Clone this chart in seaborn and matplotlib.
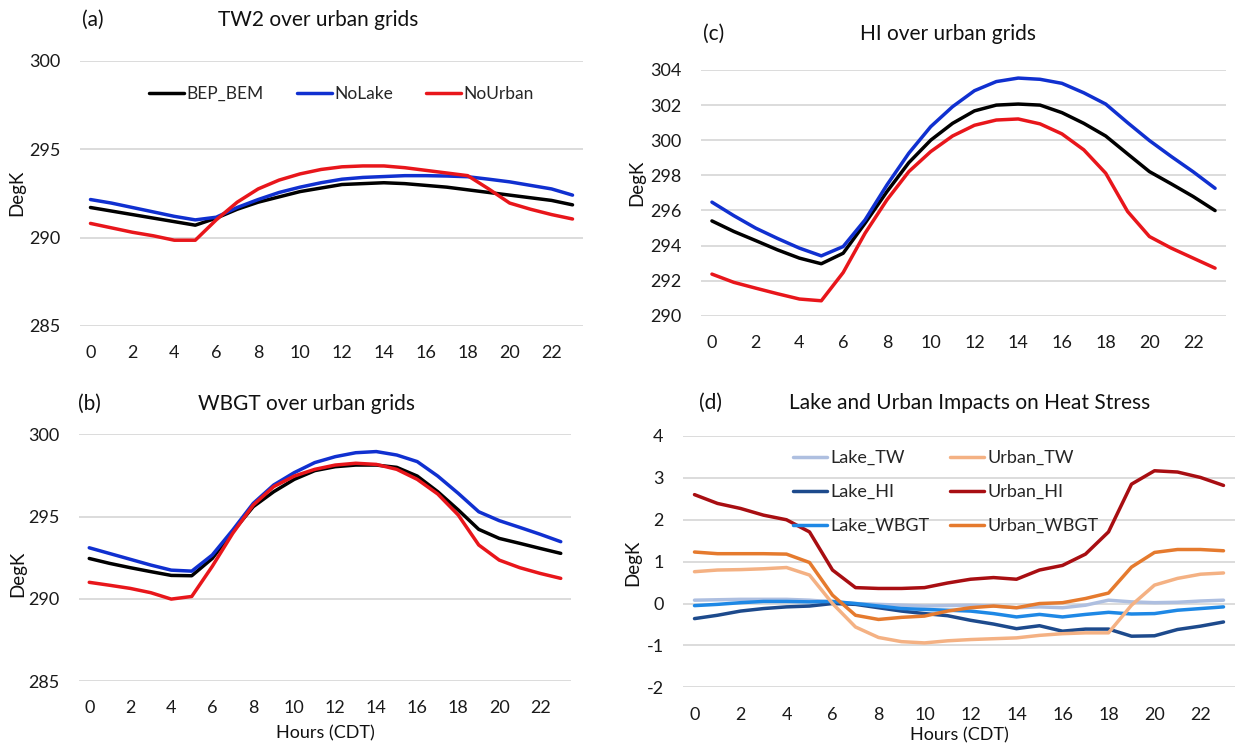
import numpy as np
import pandas as pd
import matplotlib
matplotlib.use("Agg")
import matplotlib.pyplot as plt
import seaborn as sns

hours = list(range(24))

# (a) TW2 over urban grids
tw_bep = [291.7, 291.5, 291.3, 291.1, 290.9, 290.7, 291.1, 291.6, 292.0, 292.3, 292.6, 292.8,
          293.0, 293.05, 293.1, 293.05, 292.95, 292.85, 292.7, 292.55, 292.4, 292.25, 292.1, 291.85]
tw_nolake = [292.15, 291.95, 291.7, 291.45, 291.2, 291.0, 291.15, 291.7, 292.15, 292.55, 292.85, 293.1,
             293.3, 293.4, 293.45, 293.5, 293.5, 293.48, 293.44, 293.3, 293.15, 292.95, 292.75, 292.4]
tw_nourban = [290.8, 290.55, 290.3, 290.1, 289.85, 289.85, 291.0, 292.0, 292.75, 293.25, 293.6, 293.85,
              294.0, 294.05, 294.05, 293.95, 293.8, 293.65, 293.5, 292.75, 291.95, 291.6, 291.3, 291.05]

# (c) HI over urban grids
hi_bep = [295.4, 294.8, 294.28, 293.75, 293.28, 292.96, 293.56, 295.27, 297.07, 298.72, 300.0, 300.96,
          301.67, 302.0, 302.06, 302.0, 301.57, 300.96, 300.24, 299.22, 298.21, 297.51, 296.79, 295.99]
hi_nolake = [296.47, 295.7, 294.99, 294.4, 293.85, 293.41, 293.94, 295.46, 297.45, 299.26, 300.77, 301.91,
             302.82, 303.34, 303.54, 303.47, 303.24, 302.7, 302.06, 301.0, 299.98, 299.07, 298.2, 297.26]
hi_nourban = [292.37, 291.9, 291.57, 291.25, 290.95, 290.85, 292.46, 294.7, 296.6, 298.21, 299.35, 300.24,
              300.85, 301.15, 301.21, 300.93, 300.36, 299.45, 298.12, 295.94, 294.51, 293.85, 293.28, 292.71]

# (b) WBGT over urban grids
wb_bep = [292.45, 292.15, 291.89, 291.65, 291.42, 291.4, 292.45, 294.08, 295.6, 296.51, 297.26, 297.79,
          298.03, 298.13, 298.13, 297.99, 297.46, 296.51, 295.4, 294.22, 293.67, 293.37, 293.06, 292.76]
wb_nolake = [293.1, 292.75, 292.4, 292.05, 291.74, 291.68, 292.66, 294.18, 295.8, 296.92, 297.67, 298.28,
             298.64, 298.88, 298.95, 298.74, 298.34, 297.46, 296.41, 295.29, 294.75, 294.34, 293.92, 293.47]
wb_nourban = [291.0, 290.82, 290.63, 290.37, 289.98, 290.14, 291.97, 293.98, 295.7, 296.82, 297.46, 297.87,
              298.13, 298.24, 298.17, 297.87, 297.26, 296.37, 295.09, 293.27, 292.35, 291.89, 291.54, 291.24]

# (d) Lake and Urban impacts
lake_tw = [0.08, 0.09, 0.1, 0.1, 0.1, 0.08, 0.04, 0.0, -0.02, -0.04, -0.06, -0.05,
           -0.04, -0.06, -0.1, -0.08, -0.1, -0.04, 0.08, 0.04, 0.02, 0.03, 0.06, 0.08]
urban_tw = [0.76, 0.8, 0.81, 0.83, 0.86, 0.68, 0.0, -0.56, -0.81, -0.91, -0.94, -0.89,
            -0.86, -0.84, -0.82, -0.76, -0.72, -0.7, -0.7, -0.04, 0.44, 0.6, 0.7, 0.73]
lake_hi = [-0.36, -0.28, -0.18, -0.12, -0.08, -0.06, 0.0, -0.02, -0.1, -0.18, -0.24, -0.29,
           -0.4, -0.49, -0.6, -0.53, -0.66, -0.61, -0.61, -0.78, -0.77, -0.62, -0.54, -0.44]
urban_hi = [2.6, 2.39, 2.27, 2.11, 2.0, 1.71, 0.8, 0.38, 0.36, 0.36, 0.38, 0.49,
            0.58, 0.62, 0.58, 0.8, 0.91, 1.18, 1.71, 2.85, 3.17, 3.14, 3.01, 2.82]
lake_wbgt = [-0.05, -0.02, 0.02, 0.05, 0.05, 0.04, 0.05, 0.0, -0.06, -0.12, -0.14, -0.16,
             -0.18, -0.24, -0.32, -0.26, -0.32, -0.26, -0.21, -0.25, -0.24, -0.16, -0.12, -0.08]
urban_wbgt = [1.23, 1.19, 1.19, 1.19, 1.18, 0.98, 0.2, -0.28, -0.38, -0.33, -0.3, -0.18,
              -0.1, -0.06, -0.1, 0.0, 0.02, 0.12, 0.25, 0.87, 1.22, 1.29, 1.29, 1.26]

exp_names = ["BEP_BEM", "NoLake", "NoUrban"]
exp_colors = ["#000000", "#1030D0", "#E8161B"]
imp_names = ["Lake_TW", "Lake_HI", "Lake_WBGT", "Urban_TW", "Urban_HI", "Urban_WBGT"]
imp_colors = ["#AEBFE0", "#1D4A8C", "#1E88E5", "#F4B183", "#A80E12", "#E57A2E"]

sns.set_style("white")
plt.rcParams["font.family"] = ["Lato", "DejaVu Sans"]
plt.rcParams["font.size"] = 12
plt.rcParams["axes.unicode_minus"] = False

W, H = 1240, 745
fig = plt.figure(figsize=(W / 100, H / 100), dpi=100)
LW = 2.5


def make_ax(x0, x1, ytop, ybot):
    return fig.add_axes([x0 / W, 1 - ybot / H, (x1 - x0) / W, (ybot - ytop) / H])


def long_df(names, series):
    rows = []
    for n, s in zip(names, series):
        for h, v in zip(hours, s):
            rows.append({"hour": h, "value": v, "series": n})
    return pd.DataFrame(rows)


def style_ax(ax, ylim, yticks):
    ax.set_xlim(-0.5, 23.5)
    ax.set_ylim(*ylim)
    ax.set_yticks(yticks)
    ax.set_xticks(range(0, 24, 2))
    ax.grid(axis="y", color="#D9D9D9", lw=1.3)
    ax.set_axisbelow(True)
    for s in ax.spines.values():
        s.set_visible(False)
    ax.tick_params(length=0, labelsize=13, colors="#1a1a1a")
    ax.tick_params(axis="y", pad=14)
    ax.tick_params(axis="x", pad=14)
    ax.set_xlabel("")
    ax.set_ylabel("")


axa = make_ax(80, 583, 60.7, 326)
axc = make_ax(701, 1226, 70, 315.7)
axb = make_ax(79, 571, 434.3, 681)
axd = make_ax(683, 1235, 436, 687.3)

pal_exp = dict(zip(exp_names, exp_colors))
for ax, ser, ylim, yt in [
    (axa, [tw_bep, tw_nolake, tw_nourban], (285, 300), [285, 290, 295, 300]),
    (axc, [hi_bep, hi_nolake, hi_nourban], (290, 304), list(range(290, 305, 2))),
    (axb, [wb_bep, wb_nolake, wb_nourban], (285, 300), [285, 290, 295, 300]),
]:
    df = long_df(exp_names, ser)
    sns.lineplot(data=df, x="hour", y="value", hue="series", palette=pal_exp,
                 hue_order=exp_names, lw=LW, ax=ax, legend=(ax is axa))
    style_ax(ax, ylim, yt)

leg = axa.legend(loc="center", bbox_to_anchor=(0.52, 0.874), ncol=3, frameon=False,
                 handlelength=2.0, handletextpad=0.15, columnspacing=1.9, fontsize=12.5)
for lh in leg.get_lines():
    lh.set_linewidth(LW)

dfd = long_df(imp_names, [lake_tw, lake_hi, lake_wbgt, urban_tw, urban_hi, urban_wbgt])
sns.lineplot(data=dfd, x="hour", y="value", hue="series", palette=dict(zip(imp_names, imp_colors)),
             hue_order=imp_names, lw=LW, ax=axd)
style_ax(axd, (-2, 4), list(range(-2, 5)))
legd = axd.legend(loc="center", bbox_to_anchor=(0.476, 0.777), ncol=2, frameon=False,
                  handlelength=1.9, handletextpad=0.2, columnspacing=1.1, labelspacing=1.0,
                  fontsize=13)
for lh in legd.get_lines():
    lh.set_linewidth(LW)

# panel labels and titles
tkw = dict(fontsize=15, color="#111111", ha="center", va="center")
fig.text(93 / W, 1 - 20 / H, "(a)", **tkw)
fig.text(318 / W, 1 - 20 / H, "TW2 over urban grids", **tkw)
fig.text(714 / W, 1 - 34 / H, "(c)", **tkw)
fig.text(948 / W, 1 - 34 / H, "HI over urban grids", **tkw)
fig.text(89 / W, 1 - 404 / H, "(b)", **tkw)
fig.text(306 / W, 1 - 404 / H, "WBGT over urban grids", **tkw)
fig.text(710 / W, 1 - 403 / H, "(d)", **tkw)
fig.text(970 / W, 1 - 403 / H, "Lake and Urban Impacts on Heat Stress", **tkw)

lkw = dict(fontsize=13.5, color="#111111", ha="center", va="center", rotation=90)
fig.text(17 / W, 1 - 193 / H, "DegK", **lkw)
fig.text(637 / W, 1 - 183 / H, "DegK", **lkw)
fig.text(18 / W, 1 - 574 / H, "DegK", **lkw)
fig.text(633 / W, 1 - 563 / H, "DegK", **lkw)

xkw = dict(fontsize=13, color="#111111", ha="center", va="center")
fig.text(325 / W, 1 - 733 / H, "Hours (CDT)", **xkw)
fig.text(959 / W, 1 - 735 / H, "Hours (CDT)", **xkw)

fig.savefig("out.png", dpi=100, facecolor="white")
